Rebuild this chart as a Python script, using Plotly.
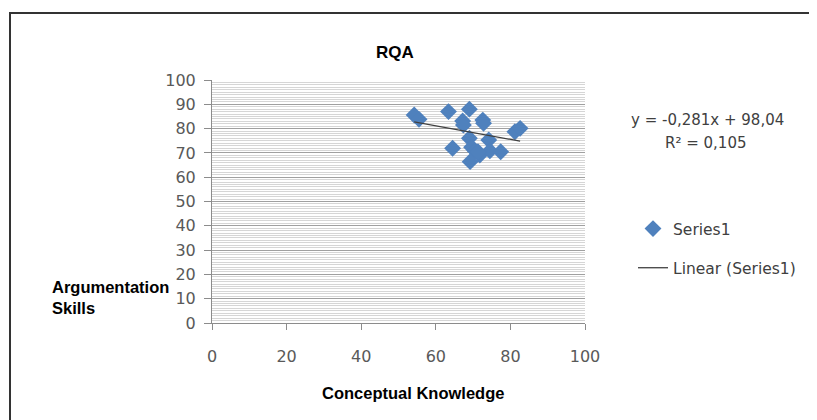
import plotly.graph_objects as go

# Data
knowledge = [54.2, 55.5, 63.4, 69.0, 67.2, 67.4, 72.6, 72.8, 81.2, 82.6,
             69.0, 74.2, 64.5, 69.6, 70.5, 71.8, 74.5, 77.4, 69.2, 71.3]
skills = [85.6, 83.8, 87.0, 88.0, 83.1, 81.5, 83.5, 82.2, 78.7, 80.1,
          76.0, 75.3, 71.9, 72.3, 70.9, 69.1, 70.9, 70.5, 66.4, 70.5]

# Linear trend (as printed on chart)
slope = -0.281
intercept = 98.04
r_squared = 0.105

x_ticks = [0, 20, 40, 60, 80, 100]
y_ticks = [0, 10, 20, 30, 40, 50, 60, 70, 80, 90, 100]

OFF = 8  # page body margin
W, H = 817 - OFF, 420 - OFF
# plot area in page pixels
PL, PR, PT, PB = 212, 585, 80, 323
L, R, T, B = PL - OFF, PR - OFF, PT - OFF, PB - OFF

trend_x = [min(knowledge), max(knowledge)]
trend_y = [slope * v + intercept for v in trend_x]

fig = go.Figure()
fig.add_trace(go.Scatter(
    x=knowledge, y=skills, mode="markers", name="Series1",
    legendgroup="a",
    marker=dict(symbol="diamond", size=13, color="#4F81BD",
                line=dict(width=0))))
fig.add_trace(go.Scatter(
    x=trend_x, y=trend_y, mode="lines", name="Linear (Series1)",
    legendgroup="b",
    line=dict(color="#404040", width=1.3)))

tick_font = dict(family="DejaVu Sans", size=16, color="#595959")
bold_font = dict(family="Liberation Sans", size=16.5, color="#000000")
text_font = dict(family="DejaVu Sans", size=15, color="#404040")

def px2x(p):  # page px -> paper x
    return (p - PL) / (PR - PL)

def px2y(p):  # page px -> paper y
    return (PB - p) / (PB - PT)

def ann(text, x, y, font, xanchor="center", align="center"):
    return dict(text=text, x=px2x(x), y=px2y(y), xref="paper", yref="paper",
                showarrow=False, xanchor=xanchor, yanchor="middle",
                align=align, font=font)

fig.update_layout(
    width=W, height=H,
    margin=dict(l=L, r=W - R, t=T, b=H - B, pad=0),
    paper_bgcolor="white", plot_bgcolor="white",
    showlegend=True,
    legend=dict(x=px2x(633), y=px2y(212), xanchor="left", yanchor="top",
                font=dict(family="DejaVu Sans", size=15.5, color="#404040"),
                tracegroupgap=16, bgcolor="rgba(0,0,0,0)"),
    xaxis=dict(range=[0, 100], tickvals=x_ticks, showgrid=False,
               zeroline=False, showline=True, linecolor="#8c8c8c",
               linewidth=1, ticks="outside", ticklen=6, tickcolor="#8c8c8c",
               tickfont=tick_font, ticklabelstandoff=13, fixedrange=True),
    yaxis=dict(range=[0, 100], tickvals=y_ticks, showgrid=True,
               gridcolor="#a0a0a0", gridwidth=1, zeroline=False,
               showline=True, linecolor="#8c8c8c", linewidth=1,
               ticks="outside", ticklen=7, tickcolor="#8c8c8c",
               tickfont=tick_font, ticklabelstandoff=5,
               minor=dict(dtick=1, showgrid=True, gridcolor="#d6d6d6",
                          gridwidth=1),
               fixedrange=True),
    shapes=[dict(type="rect", xref="paper", yref="paper",
                 x0=px2x(10), x1=px2x(850), y0=px2y(450), y1=px2y(13),
                 line=dict(color="#333333", width=2), layer="above")],
    annotations=[
        ann("<b>RQA</b>", 395, 52,
            dict(family="Liberation Sans", size=17, color="#000")),
        ann("<b>Conceptual Knowledge</b>", 413, 393, bold_font),
        ann("<b>Argumentation<br>Skills</b>", 50, 297, bold_font,
            xanchor="left", align="left"),
        ann("y = -0,281x + 98,04", 707, 120, text_font),
        ann("R² = 0,105", 705, 143, text_font),
    ],
)

fig.write_html("out.html")
